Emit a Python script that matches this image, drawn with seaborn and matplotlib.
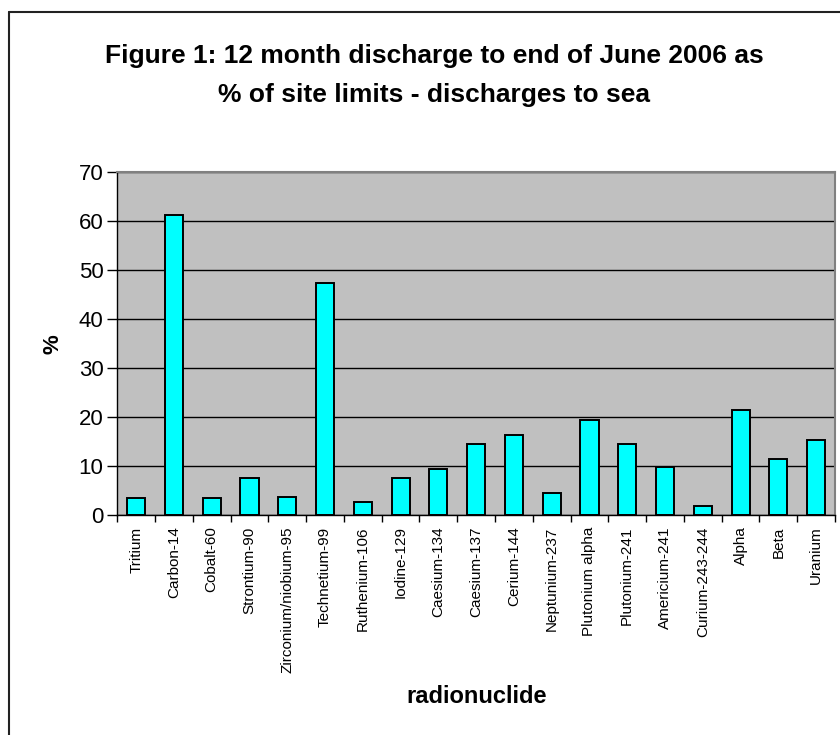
# Figure 1: discharges to sea as % of site limits
import matplotlib
matplotlib.use('Agg')
import matplotlib.pyplot as plt
from matplotlib.lines import Line2D
import seaborn as sns
import numpy as np
import pandas as pd

nuclides = ['Tritium', 'Carbon-14', 'Cobalt-60', 'Strontium-90', 'Zirconium/niobium-95',
            'Technetium-99', 'Ruthenium-106', 'Iodine-129', 'Caesium-134', 'Caesium-137',
            'Cerium-144', 'Neptunium-237', 'Plutonium alpha', 'Plutonium-241', 'Americium-241',
            'Curium-243-244', 'Alpha', 'Beta', 'Uranium']
pct_of_limit = [3.5, 61.2, 3.5, 7.6, 3.8, 47.4, 2.7, 7.6, 9.5, 14.5,
                16.4, 4.6, 19.5, 14.5, 9.9, 1.9, 21.5, 11.5, 15.3]
y_ticks = [0, 10, 20, 30, 40, 50, 60, 70]

df = pd.DataFrame({'radionuclide': nuclides, 'pct': pct_of_limit})

sns.set_style('white')
plt.rcParams['font.family'] = ['Liberation Sans', 'DejaVu Sans']
plt.rcParams['text.color'] = 'black'
plt.rcParams['axes.labelcolor'] = 'black'
plt.rcParams['xtick.color'] = 'black'
plt.rcParams['ytick.color'] = 'black'

fig = plt.figure(figsize=(8.4, 7.35), dpi=100)
ax = fig.add_axes([117.3 / 840, 1 - 515.3 / 735, (835 - 117.3) / 840, (515.3 - 172) / 735])
ax.set_facecolor('#c0c0c0')

sns.barplot(data=df, x='radionuclide', y='pct', color='#00ffff', saturation=1,
            edgecolor='black', linewidth=1.4, width=0.48, ax=ax, zorder=3)

ax.set_xlim(-0.5, len(nuclides) - 0.5)
ax.set_ylim(0, 70)
ax.set_yticks(y_ticks)
ax.set_yticklabels([str(t) for t in y_ticks], fontsize=16)
ax.yaxis.grid(True, color='black', linewidth=1)
ax.set_axisbelow(True)

# ticks between categories, labels at the bar centres
ax.set_xticks(np.arange(-0.5, len(nuclides)), minor=False)
ax.set_xticklabels([])
ax.set_xticks(np.arange(len(nuclides)), minor=True)
ax.set_xticklabels(nuclides, minor=True, rotation=90, fontsize=11)
ax.tick_params(axis='x', which='major', direction='out', length=5, width=1, color='black', bottom=True)
ax.tick_params(axis='x', which='minor', length=0, pad=8)
ax.tick_params(axis='y', direction='out', length=7, width=1, color='black', left=True, pad=3)

for s in ['top', 'right']:
    ax.spines[s].set_color('#808080')
    ax.spines[s].set_linewidth(1.5)
for s in ['left', 'bottom']:
    ax.spines[s].set_color('black')
    ax.spines[s].set_linewidth(1)

ax.set_xlabel('radionuclide', fontsize=17, fontweight='bold', labelpad=9)
ax.set_ylabel('%', fontsize=16, fontweight='bold', labelpad=11)

fig.text(434 / 840, 1 - 63 / 735, 'Figure 1: 12 month discharge to end of June 2006 as',
         ha='center', va='baseline', fontsize=19, fontweight='bold')
fig.text(434 / 840, 1 - 102 / 735, '% of site limits - discharges to sea',
         ha='center', va='baseline', fontsize=19, fontweight='bold')

# chart area border (only top and left visible)
fig.add_artist(Line2D([9 / 840, 9 / 840], [0, 1 - 12 / 735], transform=fig.transFigure,
                      color='#222222', linewidth=1.5))
fig.add_artist(Line2D([9 / 840, 1], [1 - 12 / 735, 1 - 12 / 735], transform=fig.transFigure,
                      color='#222222', linewidth=1.5))

fig.savefig('out.png', dpi=100, facecolor='white')
